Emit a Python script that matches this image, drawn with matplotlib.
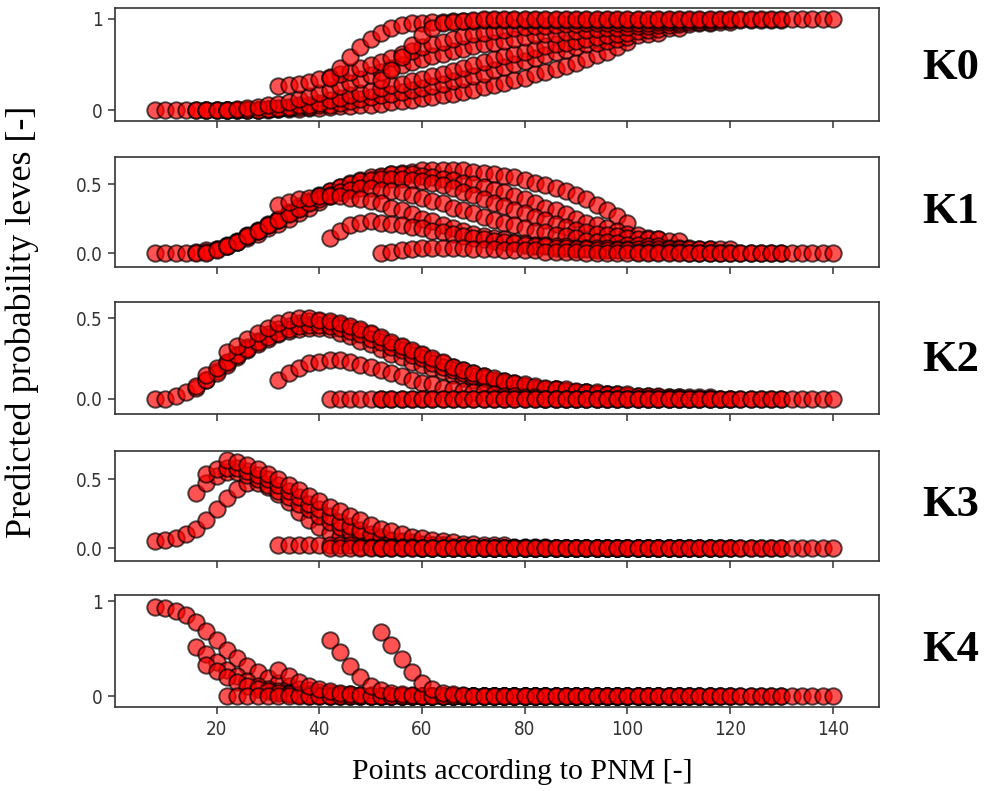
import numpy as np
import matplotlib.pyplot as plt

# each case starts at its own PNM value and is sampled every 2 points
starts = [8, 16, 18, 22, 32, 42, 52]
step = 2

# predicted probability for class K0 .. K4, one list per case
k0 = [
    [0] * 12 + [0.01, 0.01, 0.01, 0.02, 0.02, 0.03, 0.04, 0.04, 0.05, 0.06, 0.07, 0.09, 0.1, 0.11,
                0.13, 0.14, 0.16, 0.18, 0.2, 0.22, 0.25, 0.27, 0.3, 0.33, 0.35, 0.39, 0.42, 0.45,
                0.48, 0.52, 0.56, 0.6, 0.64, 0.69, 0.75],
    [0] * 7 + [0.01, 0.01, 0.02, 0.03, 0.03, 0.05, 0.06, 0.08, 0.1, 0.12, 0.14, 0.16, 0.18, 0.2,
               0.22, 0.24, 0.26, 0.29, 0.32, 0.34, 0.37, 0.4, 0.44, 0.47, 0.5, 0.54, 0.57, 0.6,
               0.64, 0.66, 0.69, 0.72, 0.74, 0.76, 0.78, 0.8, 0.82, 0.84, 0.85],
    [0] * 6 + [0.01, 0.02, 0.03, 0.05, 0.06, 0.08, 0.11, 0.13, 0.16, 0.19, 0.21, 0.24, 0.27, 0.29,
               0.32, 0.34, 0.37, 0.4, 0.43, 0.46, 0.49, 0.53, 0.56, 0.59, 0.61, 0.64, 0.67, 0.7,
               0.72, 0.74, 0.76, 0.78, 0.8, 0.82, 0.84, 0.85, 0.87, 0.88, 0.89, 0.9, 0.9],
    [0, 0.01, 0.02, 0.03, 0.05, 0.07, 0.09, 0.12, 0.15, 0.19, 0.22, 0.26, 0.3, 0.34, 0.38, 0.42,
     0.46, 0.49, 0.53, 0.56, 0.59, 0.62, 0.65, 0.67, 0.7, 0.72, 0.74, 0.76, 0.78, 0.8, 0.82, 0.83,
     0.84, 0.86, 0.87, 0.88, 0.89, 0.9, 0.9, 0.91, 0.92, 0.92, 0.93, 0.93, 0.94, 0.94, 0.95, 0.95],
    [0.26, 0.27, 0.29, 0.31, 0.34, 0.36, 0.39, 0.42, 0.46, 0.49, 0.53, 0.57, 0.61, 0.65, 0.69,
     0.72, 0.75, 0.78, 0.81, 0.83, 0.85, 0.87, 0.88, 0.9, 0.91, 0.92, 0.92, 0.93, 0.94, 0.94,
     0.95, 0.95, 0.95, 0.96, 0.96, 0.96, 0.96] + [0.97] * 8,
    [0.35, 0.46, 0.58, 0.69, 0.78, 0.85, 0.9, 0.93, 0.95, 0.96, 0.97, 0.97, 0.98, 0.98,
     0.98] + [0.99] * 30,
    [0.33, 0.44, 0.58, 0.71, 0.82, 0.9, 0.95, 0.97, 0.98, 0.99] + [1.0] * 35,
]
k1 = [
    [0, 0, 0, 0, 0.01, 0.02, 0.03, 0.05, 0.08, 0.11, 0.14, 0.18, 0.21, 0.25, 0.29, 0.33, 0.37,
     0.41, 0.44, 0.47, 0.5, 0.53, 0.55, 0.57, 0.58, 0.59, 0.6, 0.6, 0.6, 0.6, 0.6, 0.59, 0.58,
     0.57, 0.56, 0.55, 0.53, 0.51, 0.49, 0.47, 0.45, 0.42, 0.39, 0.35, 0.31, 0.27, 0.22],
    [0, 0.01, 0.03, 0.06, 0.09, 0.13, 0.17, 0.21, 0.25, 0.3, 0.34, 0.38, 0.42, 0.45, 0.48, 0.51,
     0.53, 0.55, 0.56, 0.57, 0.57, 0.57, 0.56, 0.55, 0.54, 0.53, 0.51, 0.5, 0.48, 0.46, 0.44,
     0.41, 0.39, 0.36, 0.33, 0.31, 0.28, 0.25, 0.22, 0.2, 0.18, 0.16, 0.14, 0.13, 0.11, 0.1],
    [0, 0.02, 0.05, 0.08, 0.12, 0.16, 0.2, 0.24, 0.29, 0.33, 0.37, 0.41, 0.45, 0.48, 0.5, 0.52,
     0.53, 0.54, 0.54, 0.54, 0.53, 0.52, 0.51, 0.49, 0.47, 0.44, 0.42, 0.39, 0.36, 0.34, 0.31,
     0.29, 0.26, 0.24, 0.21, 0.19, 0.17, 0.15, 0.14, 0.13, 0.12, 0.11, 0.1, 0.1, 0.1, 0.09, 0.09],
    [0.05, 0.08, 0.12, 0.16, 0.2, 0.24, 0.28, 0.32, 0.36, 0.39, 0.42, 0.44, 0.46, 0.47, 0.47,
     0.46, 0.45, 0.44, 0.42, 0.4, 0.38, 0.36, 0.33, 0.31, 0.29, 0.26, 0.24, 0.22, 0.2, 0.18,
     0.16, 0.15, 0.13, 0.12, 0.11, 0.09, 0.08, 0.08, 0.07, 0.06, 0.06, 0.05, 0.05, 0.04, 0.04,
     0.04, 0.03, 0.03],
    [0.35, 0.37, 0.39, 0.4, 0.41, 0.41, 0.41, 0.4, 0.39, 0.38, 0.36, 0.33, 0.31, 0.28, 0.25,
     0.23, 0.2, 0.18, 0.16, 0.14, 0.12, 0.11, 0.1, 0.08, 0.07, 0.06, 0.06, 0.05, 0.05, 0.04,
     0.04, 0.04, 0.04] + [0.03] * 12,
    [0.11, 0.16, 0.2, 0.22, 0.23, 0.22, 0.21, 0.2, 0.19, 0.18, 0.16, 0.15, 0.14, 0.12, 0.11, 0.1,
     0.09, 0.08, 0.07, 0.06, 0.05, 0.05, 0.04, 0.04, 0.03, 0.03, 0.02, 0.02, 0.02, 0.02, 0.01,
     0.01, 0.01, 0.01, 0.01] + [0] * 10,
    [0, 0.01, 0.02, 0.03, 0.04, 0.04, 0.04, 0.04, 0.04, 0.03, 0.03, 0.03, 0.02, 0.02, 0.02, 0.02,
     0.01, 0.01, 0.01, 0.01] + [0] * 25,
]
k2 = [
    [0, 0, 0.02, 0.04, 0.07, 0.12, 0.17, 0.22, 0.27, 0.32, 0.36, 0.4, 0.43, 0.45, 0.47, 0.48,
     0.48, 0.47, 0.46, 0.44, 0.42, 0.4, 0.37, 0.34, 0.32, 0.29, 0.27, 0.24, 0.22, 0.2, 0.18,
     0.16, 0.14, 0.12, 0.11, 0.1, 0.08, 0.07, 0.06, 0.06, 0.05, 0.04, 0.04, 0.03, 0.03, 0.02, 0.02],
    [0.08, 0.12, 0.16, 0.21, 0.26, 0.3, 0.34, 0.37, 0.4, 0.42, 0.43, 0.44, 0.44, 0.43, 0.41,
     0.39, 0.36, 0.34, 0.31, 0.28, 0.26, 0.23, 0.21, 0.19, 0.17, 0.15, 0.13, 0.12, 0.1, 0.09,
     0.08, 0.07, 0.06, 0.06, 0.05, 0.04, 0.04, 0.03, 0.03, 0.03, 0.02, 0.02, 0.02, 0.01, 0.01, 0.01],
    [0.15, 0.19, 0.23, 0.27, 0.31, 0.35, 0.38, 0.41, 0.43, 0.45, 0.46, 0.46, 0.45, 0.44, 0.42,
     0.4, 0.37, 0.35, 0.32, 0.3, 0.27, 0.25, 0.22, 0.2, 0.18, 0.16, 0.14, 0.13, 0.11, 0.1, 0.09,
     0.08, 0.07, 0.06, 0.06, 0.05, 0.04, 0.04, 0.03, 0.03, 0.03, 0.02, 0.02, 0.02, 0.01, 0.01, 0.01],
    [0.29, 0.33, 0.37, 0.41, 0.44, 0.47, 0.49, 0.5, 0.5, 0.49, 0.48, 0.47, 0.45, 0.43, 0.41,
     0.38, 0.35, 0.33, 0.3, 0.28, 0.25, 0.23, 0.2, 0.18, 0.16, 0.14, 0.13, 0.11, 0.1, 0.09, 0.08,
     0.07, 0.06, 0.06, 0.05, 0.04, 0.04, 0.03, 0.03, 0.03, 0.02, 0.02, 0.02, 0.01, 0.01, 0.01,
     0.01, 0.01],
    [0.12, 0.16, 0.19, 0.22, 0.23, 0.24, 0.24, 0.23, 0.21, 0.2, 0.18, 0.16, 0.14, 0.12, 0.1, 0.09,
     0.07, 0.06, 0.05, 0.04, 0.04, 0.03, 0.02, 0.02, 0.01, 0.01] + [0] * 19,
    [0] * 45,
    [0] * 45,
]
k3 = [
    [0.05, 0.06, 0.07, 0.1, 0.14, 0.2, 0.28, 0.36, 0.43, 0.47, 0.47, 0.44, 0.39, 0.33, 0.26, 0.2,
     0.15, 0.11, 0.08, 0.06, 0.04, 0.03, 0.03, 0.02, 0.01, 0.01] + [0] * 21,
    [0.4, 0.47, 0.52, 0.55, 0.55, 0.53, 0.5, 0.46, 0.41, 0.37, 0.32, 0.28, 0.23, 0.19, 0.15,
     0.12, 0.1, 0.08, 0.06, 0.05, 0.04, 0.03, 0.02, 0.02, 0.02, 0.01, 0.01] + [0] * 19,
    [0.54, 0.57, 0.58, 0.58, 0.56, 0.53, 0.5, 0.46, 0.41, 0.37, 0.32, 0.28, 0.23, 0.19, 0.16,
     0.13, 0.1, 0.08, 0.06, 0.05, 0.04, 0.03, 0.02, 0.02, 0.01, 0.01] + [0] * 21,
    [0.64, 0.62, 0.6, 0.57, 0.54, 0.5, 0.46, 0.42, 0.38, 0.34, 0.3, 0.27, 0.23, 0.2, 0.17, 0.14,
     0.12, 0.1, 0.08, 0.07, 0.06, 0.05, 0.04, 0.03, 0.03, 0.02, 0.02, 0.02, 0.01, 0.01, 0.01,
     0.01] + [0] * 16,
    [0.02] * 8 + [0.01] * 6 + [0] * 31,
    [0] * 45,
    [0] * 45,
]
k4 = [
    [0.94, 0.93, 0.9, 0.85, 0.78, 0.69, 0.59, 0.49, 0.4, 0.32, 0.25, 0.19, 0.14, 0.11, 0.08, 0.06,
     0.04, 0.03, 0.02, 0.02, 0.01, 0.01] + [0] * 25,
    [0.52, 0.44, 0.36, 0.28, 0.21, 0.16, 0.11, 0.08, 0.05, 0.03, 0.02, 0.02, 0.01] + [0] * 33,
    [0.33, 0.26, 0.2, 0.15, 0.11, 0.08, 0.05, 0.03, 0.02, 0.01] + [0] * 37,
    [0] * 48,
    [0.27, 0.21, 0.15, 0.11, 0.07, 0.05, 0.03, 0.02, 0.01] + [0] * 36,
    [0.59, 0.46, 0.32, 0.2, 0.11, 0.06, 0.03, 0.02, 0.01] + [0] * 36,
    [0.67, 0.54, 0.39, 0.25, 0.14, 0.07, 0.03, 0.02, 0.01] + [0] * 36,
]

panels = [k0, k1, k2, k3, k4]
names = ['K0', 'K1', 'K2', 'K3', 'K4']
xticks = [20, 40, 60, 80, 100, 120, 140]

# axes boxes (bottom, height) in figure fraction
boxes = [(0.847, 0.143), (0.6625, 0.139), (0.4766, 0.1416), (0.2908, 0.139), (0.106, 0.1416)]
ylims = [(-0.121, 1.121), (-0.101, 0.696), (-0.093, 0.599), (-0.094, 0.703), (-0.116, 1.063)]
yticks = [[0, 1], [0.0, 0.5], [0.0, 0.5], [0.0, 0.5], [0, 1]]
ytlabels = [['0', '1'], ['0.0', '0.5'], ['0.0', '0.5'], ['0.0', '0.5'], ['0', '1']]
name_y = [0.914, 0.732, 0.545, 0.3616, 0.178]

tickfont = dict(family='DejaVu Sans', stretch='condensed', size=13.5)

fig = plt.figure(figsize=(9.89, 7.91), dpi=100)

for i, panel in enumerate(panels):
    b, h = boxes[i]
    ax = fig.add_axes([0.1163, b, 0.7725, h])
    for s, vals in zip(starts, panel):
        x = s + step * np.arange(len(vals))
        ax.scatter(x, vals, s=140, c='red', edgecolors='black', linewidths=1.4, alpha=0.68)
    ax.set_xlim(0.2, 149)
    ax.set_ylim(ylims[i])
    ax.set_yticks(yticks[i])
    ax.set_yticklabels(ytlabels[i], fontdict=tickfont, color='#333333')
    ax.set_xticks(xticks)
    if i < 4:
        ax.tick_params(axis='x', labelbottom=False)
    else:
        ax.set_xticklabels([str(t) for t in xticks], fontdict=tickfont, color='#333333')
    ax.tick_params(length=5, width=1.1, color='#333333', pad=4)
    for sp in ax.spines.values():
        sp.set_color('#333333')
        sp.set_linewidth(1.2)
    fig.text(0.9615, name_y[i], names[i], family='Liberation Serif', fontweight='bold',
             fontsize=32, ha='center', va='center')

fig.text(0.528, 0.024, 'Points according to PNM [-]', family='Liberation Serif',
         fontsize=21.5, ha='center', va='center')
fig.text(0.023, 0.593, 'Predicted probability leves [-]', family='Liberation Serif',
         fontsize=26, ha='center', va='center', rotation=90)

fig.savefig('out.png', dpi=100)
